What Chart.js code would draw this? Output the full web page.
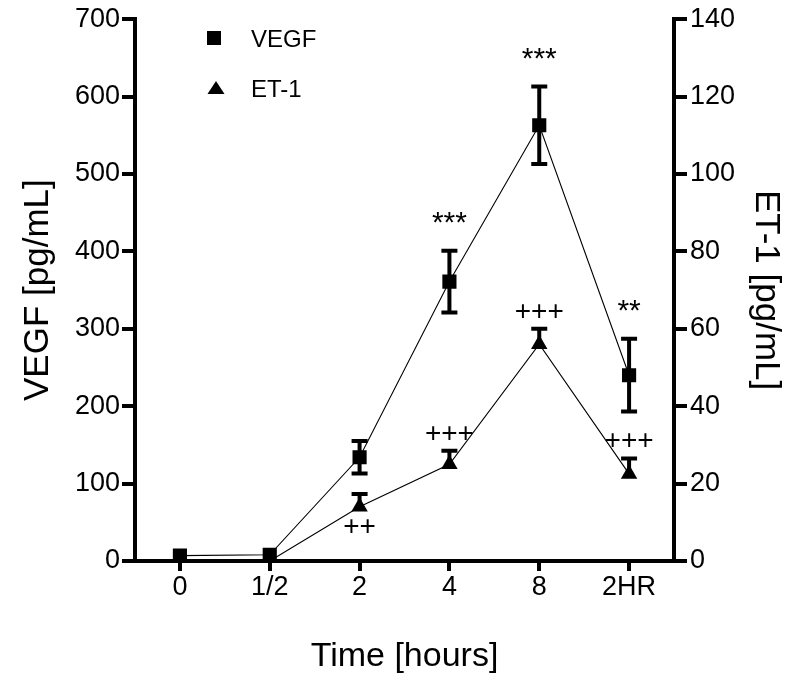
<!DOCTYPE html>
<html>
<head>
<meta charset="utf-8">
<title>VEGF and ET-1 over time</title>
<script src="https://cdn.jsdelivr.net/npm/chart.js@4.4.1/dist/chart.umd.min.js"></script>
<style>
  html, body { margin: 0; padding: 0; background: #fff; }
  #chart { display: block; }
</style>
</head>
<body>
<canvas id="chart" width="800" height="685"></canvas>
<script>
// Values
const timeLabels = ["0", "1/2", "2", "4", "8", "2HR"];
const vegfMean = [7, 8, 134, 361, 563, 240];
const vegfErr = [0, 0, 21, 40, 50, 47];
const et1Mean = [0, 0, 14, 25, 56, 22.5];
const et1Err = [0, 0, 3.3, 3.5, 4, 4];
const vegfMarks = ["", "", "", "***", "***", "**"];
const et1Marks = ["", "", "++", "+++", "+++", "+++"];
const vegfTicks = [0, 100, 200, 300, 400, 500, 600, 700];
const et1Ticks = [0, 20, 40, 60, 80, 100, 120, 140];

const FONT = "'Liberation Sans', Arial, Helvetica, sans-serif";
const INK = "#000";

// error bars go under the markers (ET-1 only shows the upper half)
const errorBars = {
  id: "errorBars",
  beforeDatasetsDraw(chart) {
    const c = chart.ctx;
    chart.data.datasets.forEach((ds, i) => {
      const meta = chart.getDatasetMeta(i);
      const yScale = chart.scales[ds.yAxisID];
      c.save();
      c.strokeStyle = INK;
      c.lineWidth = 4;
      meta.data.forEach((pt, j) => {
        const e = ds.errors[j];
        if (!e) return;
        const top = yScale.getPixelForValue(ds.data[j] + e);
        const bot = ds.errorUpOnly ? pt.y : yScale.getPixelForValue(ds.data[j] - e);
        c.beginPath();
        c.moveTo(pt.x, top);
        c.lineTo(pt.x, bot);
        c.moveTo(pt.x - 8, top);
        c.lineTo(pt.x + 8, top);
        if (!ds.errorUpOnly) {
          c.moveTo(pt.x - 8, bot);
          c.lineTo(pt.x + 8, bot);
        }
        c.stroke();
      });
      c.restore();
    });
  }
};

// significance marks (*** / +++) and the little legend in the corner
function inkText(c, txt, x, cy) {
  const m = c.measureText(txt);
  const y = cy + (m.actualBoundingBoxAscent - m.actualBoundingBoxDescent) / 2;
  c.fillText(txt, x, y);
}

const marksAndLegend = {
  id: "marksAndLegend",
  afterDatasetsDraw(chart) {
    const c = chart.ctx;
    c.save();
    c.fillStyle = INK;
    c.textAlign = "center";
    c.textBaseline = "alphabetic";
    chart.data.datasets.forEach((ds, i) => {
      const meta = chart.getDatasetMeta(i);
      const yScale = chart.scales[ds.yAxisID];
      c.font = ds.markSize + "px " + FONT;
      meta.data.forEach((pt, j) => {
        const txt = ds.marks[j];
        if (!txt) return;
        let cy;
        if (ds.marksBelow.includes(j)) {
          cy = yScale.getPixelForValue(ds.data[j]) + 19;
        } else {
          cy = yScale.getPixelForValue(ds.data[j] + ds.errors[j]) - ds.markGap;
        }
        inkText(c, txt, pt.x, cy);
      });
    });

    // legend
    c.fillRect(207, 31, 14, 14);
    c.beginPath();
    c.moveTo(216, 81);
    c.lineTo(224.5, 94);
    c.lineTo(207.5, 94);
    c.closePath();
    c.fill();
    c.textAlign = "left";
    c.font = "24px " + FONT;
    inkText(c, chart.data.datasets[0].label, 251, 38);
    inkText(c, chart.data.datasets[1].label, 251, 88);
    c.restore();
  }
};

function axisTicks(list) {
  return (scale) => {
    scale.ticks = list.map((v) => ({ value: v }));
  };
}

const ctx = document.getElementById("chart").getContext("2d");
new Chart(ctx, {
  type: "line",
  data: {
    labels: timeLabels,
    datasets: [
      {
        label: "VEGF",
        data: vegfMean,
        errors: vegfErr,
        errorUpOnly: false,
        marks: vegfMarks,
        marksBelow: [],
        markSize: 30,
        markGap: 33,
        yAxisID: "y",
        borderColor: INK,
        borderWidth: 1.1,
        pointStyle: "rect",
        pointRadius: 10,
        pointBackgroundColor: INK,
        pointBorderColor: INK,
        pointBorderWidth: 0,
        tension: 0
      },
      {
        label: "ET-1",
        data: et1Mean,
        errors: et1Err,
        errorUpOnly: true,
        marks: et1Marks,
        marksBelow: [2],
        markSize: 28,
        markGap: 18,
        yAxisID: "y2",
        borderColor: INK,
        borderWidth: 1.1,
        pointStyle: "triangle",
        pointRadius: 9.5,
        pointBackgroundColor: INK,
        pointBorderColor: INK,
        pointBorderWidth: 0,
        tension: 0
      }
    ]
  },
  options: {
    responsive: false,
    animation: false,
    layout: { padding: { top: 18, left: 0, right: 0, bottom: 0 } },
    plugins: {
      legend: { display: false },
      tooltip: { enabled: false }
    },
    scales: {
      x: {
        offset: true,
        grid: {
          display: true,
          drawOnChartArea: false,
          offset: false,
          color: INK,
          lineWidth: 4,
          tickLength: 10,
          tickWidth: 4,
          tickColor: INK
        },
        border: { display: true, color: INK, width: 4 },
        ticks: {
          color: INK,
          font: { family: FONT, size: 27 },
          padding: 0,
          autoSkip: false,
          maxRotation: 0
        },
        title: {
          display: true,
          text: "Time [hours]",
          color: INK,
          font: { family: FONT, size: 34 },
          padding: { top: 0, bottom: 8 }
        },
        afterFit: (s) => { s.height = 124; }
      },
      y: {
        position: "left",
        min: 0,
        max: 700,
        afterBuildTicks: axisTicks(vegfTicks),
        grid: {
          display: true,
          drawOnChartArea: false,
          color: INK,
          lineWidth: 4,
          tickLength: 13,
          tickWidth: 4,
          tickColor: INK
        },
        border: { display: true, color: INK, width: 4 },
        ticks: {
          color: INK,
          font: { family: FONT, size: 27 },
          padding: 2
        },
        title: {
          display: true,
          text: "VEGF [pg/mL]",
          color: INK,
          font: { family: FONT, size: 35 },
          padding: { top: 17, bottom: 0 }
        },
        afterFit: (s) => { s.width = 135; }
      },
      y2: {
        position: "right",
        min: 0,
        max: 140,
        afterBuildTicks: axisTicks(et1Ticks),
        grid: {
          display: true,
          drawOnChartArea: false,
          color: INK,
          lineWidth: 4,
          tickLength: 13,
          tickWidth: 4,
          tickColor: INK
        },
        border: { display: true, color: INK, width: 4 },
        ticks: {
          color: INK,
          font: { family: FONT, size: 27 },
          padding: 3
        },
        title: {
          display: true,
          text: "ET-1 [pg/mL]",
          color: INK,
          font: { family: FONT, size: 35 },
          padding: { top: 13, bottom: 0 }
        },
        afterFit: (s) => { s.width = 126; }
      }
    }
  },
  plugins: [errorBars, marksAndLegend]
});
</script>
</body>
</html>
